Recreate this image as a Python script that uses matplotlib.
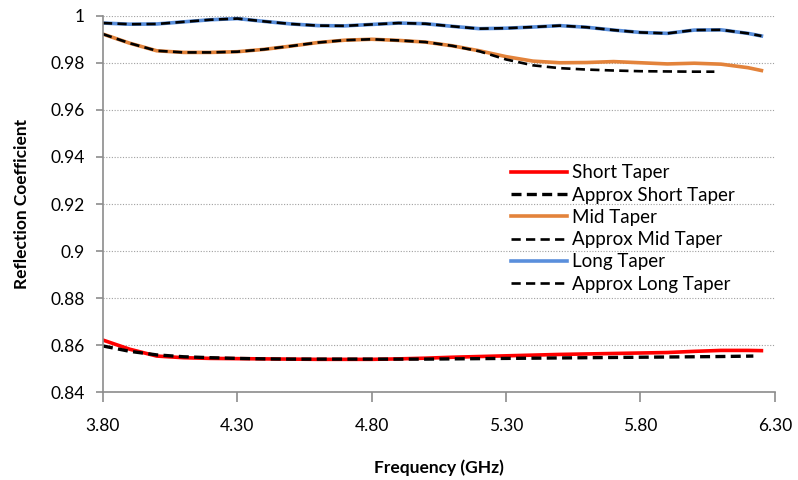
import matplotlib
matplotlib.use("Agg")
import matplotlib.pyplot as plt

plt.rcParams['font.family'] = ['Lato', 'DejaVu Sans']

# frequency grid (GHz)
freq = [3.8, 3.9, 4.0, 4.1, 4.2, 4.3, 4.4, 4.5, 4.6, 4.7, 4.8, 4.9, 5.0,
        5.1, 5.2, 5.3, 5.4, 5.5, 5.6, 5.7, 5.8, 5.9, 6.0, 6.1, 6.2, 6.25]

short_taper = [0.8621, 0.8582, 0.8553, 0.8546, 0.8543, 0.8542, 0.8541, 0.8540,
               0.8539, 0.8539, 0.8539, 0.8541, 0.8544, 0.8548, 0.8551, 0.8554,
               0.8557, 0.8560, 0.8562, 0.8564, 0.8566, 0.8568, 0.8573, 0.8577,
               0.8577, 0.8576]

mid_taper = [0.9923, 0.9884, 0.9852, 0.9845, 0.9845, 0.9848, 0.9858, 0.9872,
             0.9887, 0.9897, 0.9901, 0.9896, 0.9889, 0.9873, 0.9852, 0.9827,
             0.9808, 0.9801, 0.9802, 0.9806, 0.9801, 0.9796, 0.9799, 0.9795,
             0.9780, 0.9768]

long_taper = [0.9970, 0.9965, 0.9966, 0.9975, 0.9984, 0.9989, 0.9977, 0.9966,
              0.9959, 0.9958, 0.9964, 0.9970, 0.9967, 0.9956, 0.9946, 0.9948,
              0.9953, 0.9959, 0.9952, 0.9940, 0.9930, 0.9926, 0.9940, 0.9941,
              0.9926, 0.9915]

# approximations
freq_apx_short = [3.8, 3.9, 4.0, 4.1, 4.2, 4.3, 4.4, 4.5, 4.6, 4.7, 4.8, 4.9, 5.0,
                  5.1, 5.2, 5.3, 5.4, 5.5, 5.6, 5.7, 5.8, 5.9, 6.0, 6.1, 6.22]
approx_short = [0.8596, 0.8573, 0.8558, 0.8550, 0.8546, 0.8543, 0.8541, 0.8540,
                0.8540, 0.8540, 0.8540, 0.8540, 0.8540, 0.8541, 0.8542, 0.8543,
                0.8544, 0.8545, 0.8546, 0.8547, 0.8548, 0.8549, 0.8550, 0.8551,
                0.8553]

freq_apx_mid = [3.8, 3.9, 4.0, 4.1, 4.2, 4.3, 4.4, 4.5, 4.6, 4.7, 4.8, 4.9, 5.0,
                5.1, 5.2, 5.3, 5.4, 5.5, 5.6, 5.7, 5.8, 5.9, 6.0, 6.075]
approx_mid = [0.9923, 0.9884, 0.9852, 0.9845, 0.9845, 0.9848, 0.9858, 0.9872,
              0.9887, 0.9897, 0.9901, 0.9896, 0.9889, 0.9873, 0.9850, 0.9815,
              0.9790, 0.9778, 0.9772, 0.9768, 0.9765, 0.9764, 0.9763, 0.9763]

approx_long = [0.9970, 0.9965, 0.9966, 0.9975, 0.9984, 0.9989, 0.9977, 0.9966,
               0.9959, 0.9958, 0.9964, 0.9970, 0.9967, 0.9956, 0.9946, 0.9948,
               0.9953, 0.9959, 0.9952, 0.9940, 0.9930, 0.9926, 0.9940, 0.9941,
               0.9926, 0.9915]

x_ticks = [3.80, 4.30, 4.80, 5.30, 5.80, 6.30]
y_ticks = [0.84, 0.86, 0.88, 0.9, 0.92, 0.94, 0.96, 0.98, 1]
y_tick_labels = ['0.84', '0.86', '0.88', '0.9', '0.92', '0.94', '0.96', '0.98', '1']

fig = plt.figure(figsize=(7.98, 4.8), dpi=100)
ax = fig.add_axes([0.129, 0.1833, 0.842, 0.7834])

ax.plot(freq, short_taper, color='#FF0000', lw=2.6, label='Short Taper')
ax.plot(freq_apx_short, approx_short, color='black', lw=2.4, ls=(0, (3, 1.6)),
        label='Approx Short Taper')
ax.plot(freq, mid_taper, color='#E3833B', lw=2.6, label='Mid Taper')
ax.plot(freq_apx_mid, approx_mid, color='black', lw=1.9, ls=(0, (3.5, 2)),
        label='Approx Mid Taper')
ax.plot(freq, long_taper, color='#5A8FDC', lw=2.6, label='Long Taper')
ax.plot(freq, approx_long, color='black', lw=1.9, ls=(0, (3.5, 2)),
        label='Approx Long Taper')

ax.set_xlim(3.8, 6.3)
ax.set_ylim(0.84, 1.0)
ax.set_xticks(x_ticks)
ax.set_xticklabels(['%.2f' % t for t in x_ticks])
ax.set_yticks(y_ticks)
ax.set_yticklabels(y_tick_labels)

ax.grid(axis='y', color='#A0A0A0', ls=(0, (1, 1.5)), lw=0.8)
ax.set_axisbelow(True)
for side in ['top', 'right']:
    ax.spines[side].set_visible(False)
for side in ['left', 'bottom']:
    ax.spines[side].set_color('#8C8C8C')
    ax.spines[side].set_linewidth(1.2)
ax.tick_params(axis='both', colors='#8C8C8C', labelcolor='black',
               labelsize=12.5, length=5, width=1.2)
ax.tick_params(axis='x', length=7, pad=12)
ax.tick_params(axis='y', pad=8)

ax.set_xlabel('Frequency (GHz)', fontsize=12.5, fontweight='bold', labelpad=18)
ax.set_ylabel('Reflection Coefficient', fontsize=12.5, fontweight='bold', labelpad=15)

ax.legend(loc='upper left', bbox_to_anchor=(0.596, 0.625), frameon=False,
          fontsize=13.5, handlelength=3.0, handletextpad=0.25, labelspacing=0.28,
          borderaxespad=0)

fig.savefig('out.png', dpi=100)
